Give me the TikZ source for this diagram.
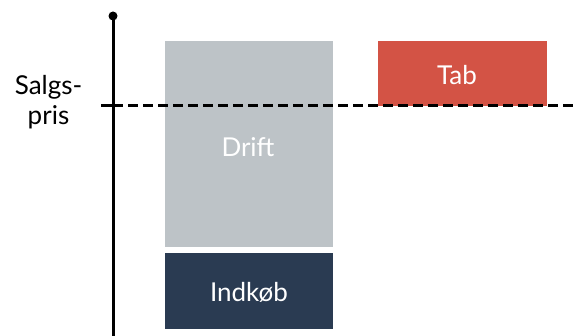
\documentclass[tikz,border=0pt]{standalone}
\usepackage{fontspec}
\setmainfont{Lato}
\definecolor{costgray}{HTML}{BDC3C7}
\definecolor{costnavy}{HTML}{2A3B52}
\definecolor{lossred}{HTML}{D35345}
\begin{document}
\begin{tikzpicture}[x=1pt,y=-1pt,
  bar/.style={rectangle,inner sep=0pt},
  barlabel/.style={anchor=base,inner sep=0pt,text=white,font=\fontsize{26}{30}\selectfont},
  axisline/.style={line width=3pt,black},
  priceline/.style={line width=3pt,black,dash pattern=on 10pt off 5pt}]
  \useasboundingbox (0,0) rectangle (587,336);
  % cost bars
  \node[bar,fill=costgray,minimum width=168pt,minimum height=206pt] (drift) at (249,144) {};
  \node[bar,fill=costnavy,minimum width=168pt,minimum height=76pt] (indkob) at (249,291) {};
  \node[bar,fill=lossred,minimum width=169pt,minimum height=65pt] (tab) at (462.5,73.5) {};
  \node[barlabel] (driftlabel) at (248,157) {Drift};
  \node[barlabel] (indkoblabel) at (249,302) {Indkøb};
  \node[barlabel] (tablabel) at (457,85) {Tab};
  % vertical axis with dot at the top
  \coordinate (axtop) at (113,16);
  \coordinate (axbot) at (113,336);
  \draw[axisline] (axtop) -- (axbot);
  \fill (axtop) circle (4.5pt);
  % sales price level
  \coordinate (tickL) at (101,106);
  \coordinate (tickR) at (113,106);
  \coordinate (priceEnd) at (577,106);
  \draw[axisline] (tickL) -- (tickR);
  \draw[priceline] (tickR) -- (priceEnd);
  \node[align=center,anchor=base,font=\fontsize{26}{30}\selectfont,inner sep=0pt] (salgspris) at (48.5,125) {Salgs-\\pris};
\end{tikzpicture}
\end{document}
